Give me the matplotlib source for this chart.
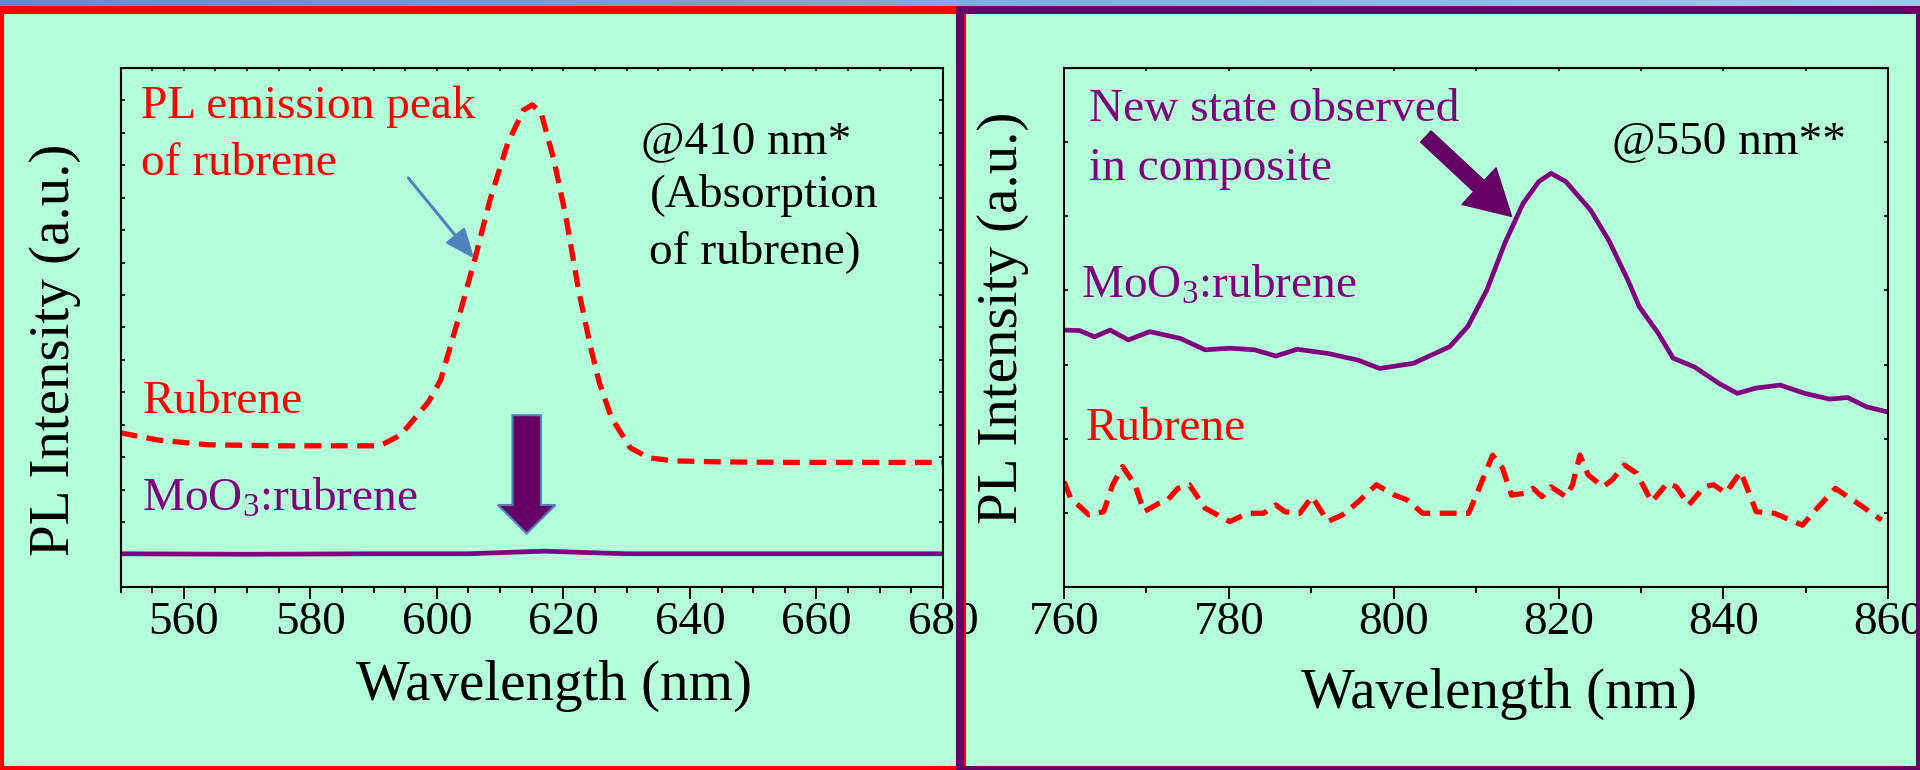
import numpy as np
import matplotlib
matplotlib.use("Agg")
import matplotlib.pyplot as plt
from matplotlib.patches import Rectangle, FancyArrow, FancyArrowPatch
from matplotlib.colors import LinearSegmentedColormap
from matplotlib.ticker import MultipleLocator, NullFormatter

plt.rcParams['font.family'] = ['Liberation Serif', 'DejaVu Serif']
plt.rcParams['mathtext.fontset'] = 'custom'
plt.rcParams['mathtext.rm'] = 'Liberation Serif'
plt.rcParams['mathtext.default'] = 'regular'

# ---- data (arbitrary units 0-100) ----
# left: excitation @410 nm
wl_left_rub = [550, 556, 563.8, 575, 591, 594.3, 598.7, 600.6, 603.5, 606.1, 608.4,
               611.2, 613.7, 615.1, 616.5, 618.5, 620.4, 622.4, 624.3, 625.7, 627.6,
               630.6, 633.5, 637.4, 645, 656.7, 670, 680]
pl_left_rub = [29.7, 28.3, 27.4, 27.2, 27.2, 29.3, 35.7, 39.9, 52.1, 63.6, 74.6,
               85.5, 91.9, 92.9, 91.3, 82.3, 71.3, 57.2, 46.2, 39.3, 32.6,
               26.8, 24.9, 24.3, 24.1, 24.0, 24.0, 24.0]

wl_left_moo = [550, 570, 590, 605, 612, 617, 622, 630, 650, 680]
pl_left_moo = [6.4, 6.3, 6.4, 6.4, 6.7, 6.9, 6.7, 6.4, 6.4, 6.4]

# right: excitation @550 nm
wl_right_moo = [760, 761.9, 763.7, 765.6, 767.8, 770.4, 774.1, 777.1, 780.1, 783.1,
                785.7, 788.3, 792, 795.7, 798.3, 802.4, 806.8, 809, 811.3, 813.5,
                815.7, 817.6, 819.1, 820.9, 823.9, 826.1, 828.4, 829.8, 832.1, 833.9,
                836.5, 839.5, 841.7, 843.9, 846.9, 849.9, 852.9, 855.1, 857.4, 860]
pl_right_moo = [49.5, 49.4, 48.2, 49.5, 47.6, 49.2, 47.9, 45.7, 46.0, 45.7,
                44.5, 45.8, 45.0, 43.7, 42.1, 43.1, 46.3, 50.2, 57.2, 66.3,
                73.9, 78.1, 79.7, 78.1, 72.6, 66.8, 59.2, 54.0, 48.9, 44.1,
                42.4, 39.2, 37.3, 38.3, 38.9, 37.3, 36.2, 36.5, 34.7, 33.7]

wl_right_rub = [760, 760.8, 763, 764.8, 765.9, 767.1, 768.6, 769.7, 771.5, 772.6,
                773.8, 775.2, 777.1, 780.1, 782.3, 784.2, 785.7, 786.8, 788.6, 790.1,
                792, 793.8, 795.7, 797.9, 800.1, 801.6, 803.5, 809.1, 810.2, 812,
                813.2, 814.3, 816.1, 816.9, 818, 819.1, 820.9, 821.7, 822.6, 823.6,
                825.4, 826.5, 828, 829.5, 831.3, 833.2, 834.3, 835.8, 837.7, 838.8,
                840.3, 842.1, 844, 846.2, 849.6, 851.4, 853.6, 856.6, 859.2]
pl_right_rub = [20.3, 17.1, 13.9, 14.5, 19.7, 23.2, 19.7, 14.5, 16.1, 16.8,
                19.0, 19.7, 15.2, 12.6, 14.2, 14.2, 15.8, 14.5, 14.2, 17.4,
                12.6, 13.9, 16.4, 19.7, 17.7, 16.8, 14.2, 14.2, 18.4, 25.4,
                22.9, 17.7, 18.1, 19.0, 17.4, 19.3, 17.4, 19.7, 25.4, 21.6,
                19.3, 20.6, 23.5, 21.9, 16.4, 20.0, 19.3, 15.8, 19.3, 19.7,
                18.1, 22.2, 14.5, 14.2, 11.9, 15.2, 19.0, 15.8, 12.9]

BG = '#B3FFD9'
RED = '#FF0000'
PURPLE = '#800080'
DARK = '#660066'
BLUE = '#4F81BD'

fig = plt.figure(figsize=(19.2, 7.7), dpi=100, facecolor=BG)

ax1 = fig.add_axes([0.0628, 0.2377, 0.4283, 0.674])
ax2 = fig.add_axes([0.5542, 0.2377, 0.4292, 0.674])


def style(ax, xlim, major, minor, ystep):
    ax.set_facecolor(BG)
    ax.set_xlim(xlim)
    ax.set_ylim(0, 100)
    ax.xaxis.set_major_locator(MultipleLocator(major))
    ax.xaxis.set_minor_locator(MultipleLocator(minor))
    ax.yaxis.set_major_locator(MultipleLocator(ystep))
    ax.yaxis.set_major_formatter(NullFormatter())
    ax.tick_params(axis='x', which='major', direction='out', length=8.5, width=1.4,
                   labelsize=34, pad=2)
    ax.tick_params(axis='x', which='minor', direction='out', length=4.5, width=1.4)
    ax.tick_params(axis='y', which='both', direction='in', length=3, width=1.2,
                   left=True, right=True)
    for s in ax.spines.values():
        s.set_linewidth(1.5)
    top = ax.secondary_xaxis('top')
    top.xaxis.set_major_locator(MultipleLocator(minor))
    top.xaxis.set_major_formatter(NullFormatter())
    top.tick_params(direction='in', length=2.5, width=1.2)


style(ax1, (550, 680), 20, 5, 100 / 16)
style(ax2, (760, 860), 20, 10, 100 / 7)

dash = (0, (3.2, 1.8))

# left panel
ax1.plot(wl_left_rub, pl_left_rub, color=RED, lw=3.8, linestyle=dash, dash_capstyle='butt')
ax1.plot(wl_left_moo, pl_left_moo, color=PURPLE, lw=3.4)

ax1.text(553.2, 90.4, 'PL emission peak', color=RED, fontsize=34, va='baseline')
ax1.text(553.2, 79.4, 'of rubrene', color=RED, fontsize=34, va='baseline')
ax1.text(632.3, 83.6, '@410 nm*', color='black', fontsize=34, va='baseline')
ax1.text(633.6, 73.2, '(Absorption', color='black', fontsize=34, va='baseline')
ax1.text(633.6, 62.4, 'of rubrene)', color='black', fontsize=34, va='baseline')
ax1.text(553.5, 33.5, 'Rubrene', color=RED, fontsize=34, va='baseline')
ax1.text(553.4, 14.6, 'MoO$_3$:rubrene', color=PURPLE, fontsize=34, va='baseline')

ax1.annotate('', xy=(605.9, 63.3), xytext=(595.5, 78.8),
             arrowprops=dict(arrowstyle='-|>,head_length=0.6,head_width=0.25',
                             color=BLUE, lw=2.2, mutation_scale=30,
                             shrinkA=0, shrinkB=0))
ax1.add_patch(FancyArrow(614.2, 33.1, 0, -22.8, width=4.5, head_width=9.1,
                         head_length=5.5, length_includes_head=True,
                         facecolor=DARK, edgecolor=BLUE, lw=1.5, zorder=4))

# right panel
ax2.plot(wl_right_moo, pl_right_moo, color=PURPLE, lw=3.4)
ax2.plot(wl_right_rub, pl_right_rub, color=RED, lw=3.8, linestyle=dash, dash_capstyle='butt')

ax2.text(763.0, 89.7, 'New state observed', color=PURPLE, fontsize=34, va='baseline')
ax2.text(763.0, 78.4, 'in composite', color=PURPLE, fontsize=34, va='baseline')
ax2.text(826.5, 83.6, '@550 nm**', color='black', fontsize=34, va='baseline')
ax2.text(762.0, 55.7, 'MoO$_3$:rubrene', color=PURPLE, fontsize=34, va='baseline')
ax2.text(762.6, 28.3, 'Rubrene', color=RED, fontsize=34, va='baseline')

ax2.add_patch(FancyArrowPatch((803.9, 86.8), (814.3, 71.4),
                              arrowstyle='simple,head_length=32,head_width=36,tail_width=11',
                              mutation_scale=1, color=DARK, shrinkA=0, shrinkB=0, zorder=4))

# axis labels
fig.text(0.0286, 0.5455, 'PL Intensity (a.u.)', rotation=90, fontsize=41,
         ha='center', va='center')
fig.text(0.5226, 0.587, 'PL Intensity (a.u.)', rotation=90, fontsize=41,
         ha='center', va='center')
fig.text(0.2885, 0.1097, 'Wavelength (nm)', fontsize=41, ha='center', va='center')
fig.text(0.7807, 0.0987, 'Wavelength (nm)', fontsize=41, ha='center', va='center')

# slide decorations: gradient strip and panel frames
axg = fig.add_axes([0, 1 - 6 / 770, 1, 6 / 770])
axg.imshow(np.linspace(0, 1, 256)[None, :], aspect='auto',
           cmap=LinearSegmentedColormap.from_list('strip', ['#5B8DD6', '#A9C6EC']))
axg.axis('off')

fig.patches.append(Rectangle((0, 0), 962 / 1920, 760 / 770, transform=fig.transFigure,
                             facecolor='none', edgecolor=RED, lw=5.8, zorder=5))
fig.patches.append(Rectangle((960 / 1920, 0), 960 / 1920, 760 / 770, transform=fig.transFigure,
                             facecolor='none', edgecolor=DARK, lw=5.8, zorder=6))

fig.savefig('out.png', dpi=100, facecolor=BG)
